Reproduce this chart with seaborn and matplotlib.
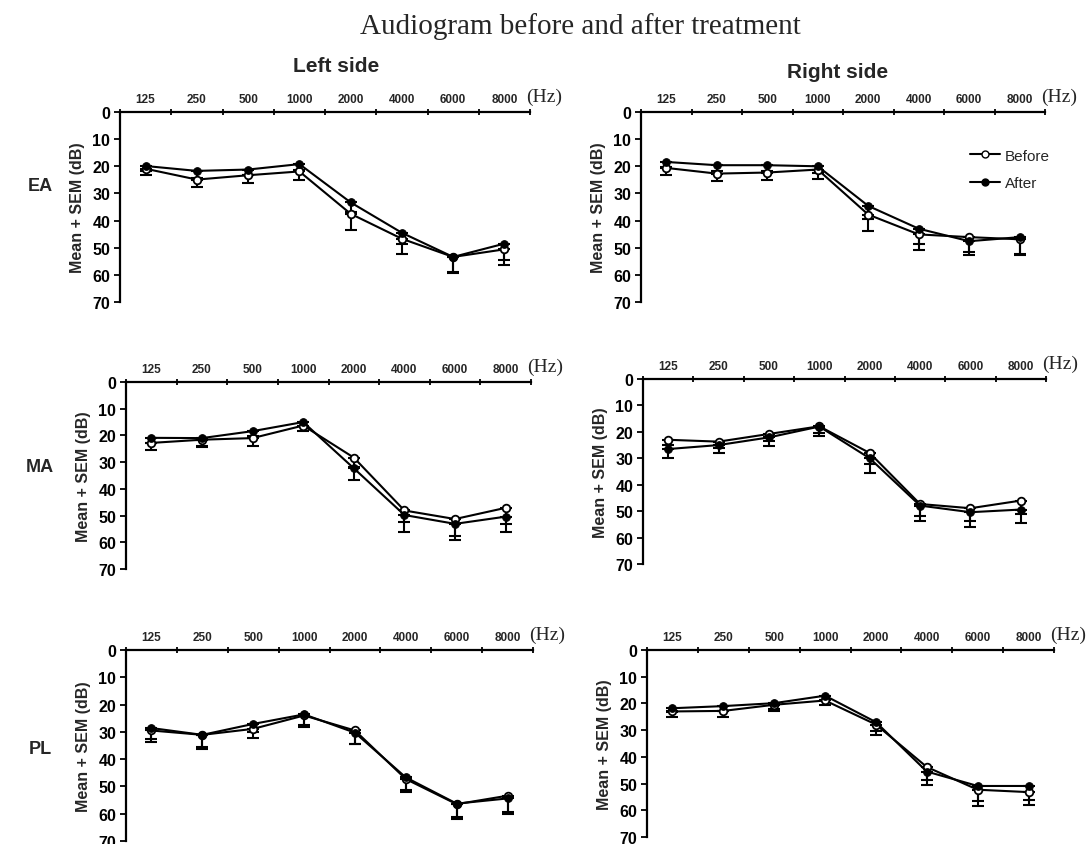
import numpy as np
import pandas as pd
import matplotlib
matplotlib.use('Agg')
import matplotlib.pyplot as plt
import seaborn as sns
from matplotlib.lines import Line2D

sns.set_theme(style='white')
plt.rcParams['font.family'] = ['Liberation Sans', 'DejaVu Sans']

# Frequencies (Hz) shown as categories
freqs = ['125', '250', '500', '1000', '2000', '4000', '6000', '8000']

# EA group
ea_left_before = [20.9, 24.9, 23.3, 21.9, 37.5, 46.7, 53.4, 50.6]
ea_left_before_sem = [2.4, 2.7, 2.7, 3.3, 5.8, 5.5, 5.8, 5.9]
ea_left_after = [19.9, 21.7, 21.2, 19.2, 33.3, 44.5, 53.4, 48.5]
ea_left_after_sem = [2.0, 2.5, 2.0, 2.2, 3.5, 4.3, 5.6, 6.2]

ea_right_before = [20.6, 22.7, 22.3, 21.2, 37.8, 45.1, 46.1, 46.9]
ea_right_before_sem = [2.5, 2.8, 2.9, 3.4, 6.0, 5.9, 6.7, 5.9]
ea_right_after = [18.4, 19.6, 19.6, 20.0, 34.6, 43.0, 47.6, 46.1]
ea_right_after_sem = [2.0, 2.0, 2.0, 2.5, 4.7, 5.8, 4.0, 6.1]

# MA group
ma_left_before = [22.8, 21.6, 21.0, 16.3, 28.3, 48.1, 51.3, 47.1]
ma_left_before_sem = [2.8, 2.5, 2.8, 2.2, 3.5, 4.4, 6.5, 6.0]
ma_left_after = [20.9, 21.0, 18.4, 15.0, 32.3, 49.8, 53.1, 50.4]
ma_left_after_sem = [2.0, 3.4, 2.0, 1.5, 4.2, 6.2, 5.9, 5.6]

ma_right_before = [23.0, 23.7, 20.8, 17.9, 28.0, 47.3, 48.9, 46.0]
ma_right_before_sem = [2.0, 2.5, 2.5, 2.5, 4.0, 4.5, 5.0, 5.0]
ma_right_after = [26.5, 25.0, 22.1, 18.0, 30.0, 47.9, 50.4, 49.4]
ma_right_after_sem = [3.4, 3.1, 3.4, 3.7, 5.6, 5.7, 5.5, 5.1]

# PL group
pl_left_before = [29.5, 31.1, 28.9, 24.0, 29.5, 47.3, 56.5, 53.4]
pl_left_before_sem = [4.3, 5.1, 3.4, 4.3, 5.1, 4.9, 5.5, 6.6]
pl_left_after = [28.6, 31.1, 27.1, 23.6, 30.3, 46.7, 56.3, 54.4]
pl_left_after_sem = [4.0, 4.5, 3.0, 4.0, 4.0, 4.5, 5.0, 5.0]

pl_right_before = [23.0, 22.8, 20.5, 18.9, 27.9, 43.8, 52.3, 53.2]
pl_right_before_sem = [1.9, 2.4, 2.5, 1.6, 4.1, 6.6, 6.2, 4.7]
pl_right_after = [21.8, 21.0, 19.9, 17.1, 27.0, 45.5, 50.9, 50.9]
pl_right_after_sem = [1.5, 1.8, 2.0, 1.5, 3.5, 3.3, 5.8, 5.4]

panels = [
    ('EA', 'left', ea_left_before, ea_left_before_sem, ea_left_after, ea_left_after_sem),
    ('EA', 'right', ea_right_before, ea_right_before_sem, ea_right_after, ea_right_after_sem),
    ('MA', 'left', ma_left_before, ma_left_before_sem, ma_left_after, ma_left_after_sem),
    ('MA', 'right', ma_right_before, ma_right_before_sem, ma_right_after, ma_right_after_sem),
    ('PL', 'left', pl_left_before, pl_left_before_sem, pl_left_after, pl_left_after_sem),
    ('PL', 'right', pl_right_before, pl_right_before_sem, pl_right_after, pl_right_after_sem),
]

# axes boxes in pixels: left, right, top, bottom
W, H = 1089, 845
boxes = [
    (120, 530, 113, 303),
    (641, 1045, 113, 303),
    (126, 531, 383, 570),
    (643, 1046, 380, 565),
    (126, 533, 651, 842),
    (647, 1054, 651, 838),
]

fig = plt.figure(figsize=(W / 100, H / 100), dpi=100)

pos = np.arange(len(freqs)) + 0.5

for (grp, side, bef, bef_sem, aft, aft_sem), (l, r, t, b) in zip(panels, boxes):
    ax = fig.add_axes([l / W, 1 - b / H, (r - l) / W, (b - t) / H])
    df = pd.DataFrame({'pos': pos, 'before': bef, 'after': aft})

    # one-sided error bars (mean + SEM)
    ax.errorbar(pos, bef, yerr=[np.zeros(len(bef)), bef_sem], fmt='none',
                ecolor='black', elinewidth=1.5, capsize=4, capthick=1.5, zorder=2)
    ax.errorbar(pos, aft, yerr=[np.zeros(len(aft)), aft_sem], fmt='none',
                ecolor='black', elinewidth=1.5, capsize=4, capthick=1.5, zorder=2)

    sns.lineplot(data=df, x='pos', y='before', ax=ax, color='black', lw=1.5,
                 marker='o', markersize=5.5, markerfacecolor='white',
                 markeredgecolor='black', markeredgewidth=1.3, legend=False, zorder=3)
    sns.lineplot(data=df, x='pos', y='after', ax=ax, color='black', lw=1.5,
                 marker='o', markersize=5.5, markerfacecolor='black',
                 markeredgecolor='black', legend=False, zorder=4)

    ax.set_xlim(0, 8)
    ax.set_ylim(70, 0)
    for s in ['right', 'bottom']:
        ax.spines[s].set_visible(False)
    for s in ['top', 'left']:
        ax.spines[s].set_color('black')
        ax.spines[s].set_linewidth(1.6)

    ax.xaxis.tick_top()
    ax.set_xticks(np.arange(0, 9))
    ax.set_xticklabels([])
    ax.set_xticks(pos, minor=True)
    ax.set_xticklabels(freqs, minor=True, fontsize=8.5, fontweight='bold')
    ax.tick_params(axis='x', which='major', direction='inout', length=5, width=1.3,
                   top=True, bottom=False, colors='black')
    ax.tick_params(axis='x', which='minor', length=0, pad=5, top=True, bottom=False)
    ax.set_xlabel('')

    ax.set_yticks(np.arange(0, 80, 10))
    ax.set_yticklabels([str(v) for v in range(0, 80, 10)], fontsize=11.5, fontweight='bold')
    ax.tick_params(axis='y', direction='out', length=4, width=1.3, left=True, pad=3,
                   colors='black')
    ax.set_ylabel('Mean + SEM (dB)', fontsize=11.5, fontweight='bold', labelpad=5)
    ax.patch.set_alpha(0)

    ax.annotate('(Hz)', xy=(1.0, 1.0), xycoords='axes fraction', xytext=(-3, 5),
                textcoords='offset points', ha='left', va='bottom',
                fontsize=14, family='Liberation Serif')

    if side == 'right' and grp == 'EA':
        handles = [
            Line2D([], [], color='black', lw=1.5, marker='o', markersize=5,
                   markerfacecolor='white', markeredgecolor='black'),
            Line2D([], [], color='black', lw=1.5, marker='o', markersize=5,
                   markerfacecolor='black'),
        ]
        ax.legend(handles, ['Before', 'After'], loc='upper left',
                  bbox_to_anchor=(0.78, 0.88), frameon=False, fontsize=11,
                  handlelength=2.0, handletextpad=0.3, labelspacing=0.9)

# row labels
for lab, y in [('EA', 187), ('MA', 468), ('PL', 750)]:
    fig.text(40 / W, 1 - y / H, lab, ha='center', va='center',
             fontsize=13, fontweight='bold')

fig.text(336 / W, 1 - 67 / H, 'Left side', ha='center', va='center',
         fontsize=15, fontweight='bold')
fig.text(838 / W, 1 - 72 / H, 'Right side', ha='center', va='center',
         fontsize=15, fontweight='bold')
fig.text(580 / W, 1 - 27 / H, 'Audiogram before and after treatment', ha='center',
         va='center', fontsize=21, family='Liberation Serif')

fig.savefig('out.png', dpi=100)
